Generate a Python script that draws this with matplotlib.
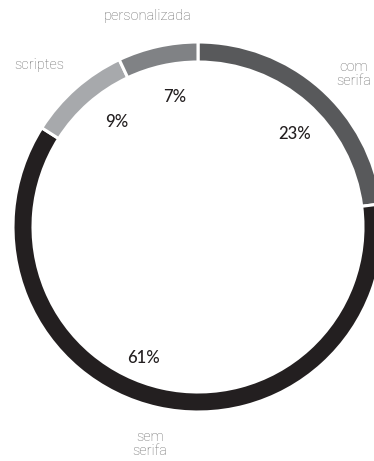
import matplotlib
matplotlib.use("Agg")
import matplotlib.pyplot as plt

categories = ["com\nserifa", "sem\nserifa", "scriptes", "personalizada"]
shares = [23, 61, 9, 7]
colors = ["#58595b", "#231f20", "#a7a9ac", "#808285"]

# small nudges (pixels, y down) off the default label spots
label_nudge = [(10, 12), (0, 2), (-13, 3), (-2, 4)]
pct_nudge = [(6, 10), (-25, -3), (9, -2), (7, 4)]

W, H = 374, 461
fig = plt.figure(figsize=(W / 100, H / 100), dpi=100)
ax = fig.add_axes([0, 0, 1, 1])

wedges, texts, pcts = ax.pie(
    shares,
    labels=categories,
    colors=colors,
    startangle=90,
    counterclock=False,
    center=(198, H - 227),
    radius=185,
    frame=True,
    autopct="%d%%",
    pctdistance=0.74,
    labeldistance=1.19,
    wedgeprops=dict(width=20, edgecolor="white", linewidth=2.2),
)

for t, (dx, dy) in zip(texts, label_nudge):
    x, y = t.get_position()
    t.set_position((x + dx, y - dy))
    t.set_ha("center")
    t.set_va("center")
    t.set_fontsize(10.5)
    t.set_color("#6a6a6a")
    t.set_family("Roboto")
    t.set_fontweight("light")
    t.set_linespacing(0.95)

for t, (dx, dy) in zip(pcts, pct_nudge):
    x, y = t.get_position()
    t.set_position((x + dx, y - dy))
    t.set_color("#231f20")
    t.set_fontsize(12)
    t.set_family("Lato")
    t.set_fontweight("medium")

ax.set_xlim(0, W)
ax.set_ylim(0, H)
ax.set_aspect("equal")
ax.axis("off")

fig.savefig("out.png", dpi=100, facecolor="white")
